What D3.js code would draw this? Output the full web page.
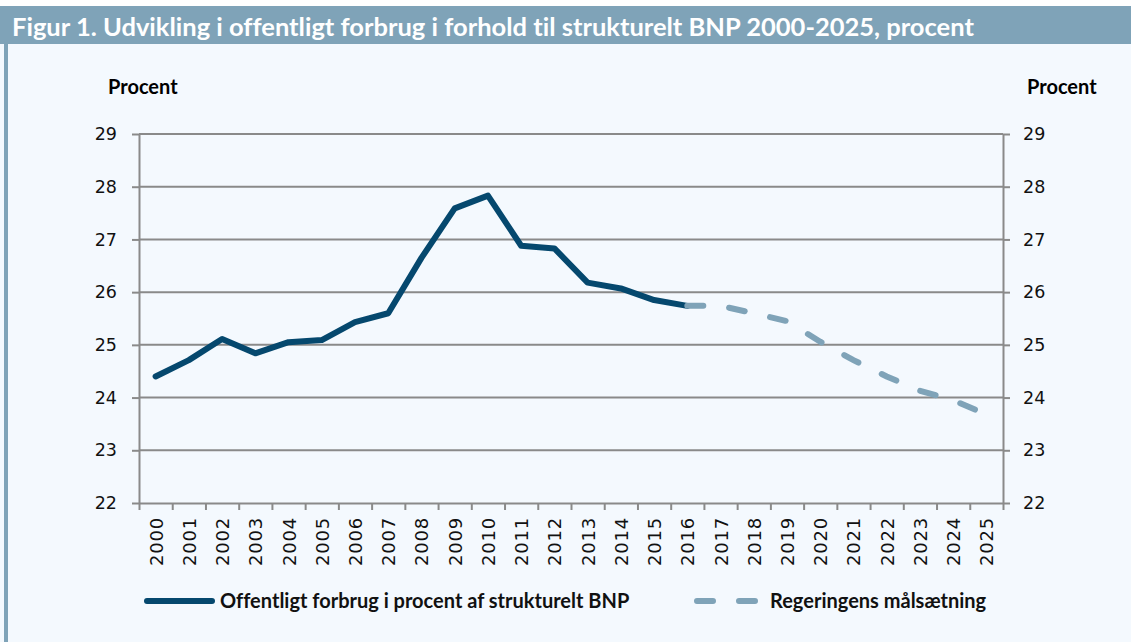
<!DOCTYPE html>
<html>
<head>
<meta charset="utf-8">
<script src="https://cdn.jsdelivr.net/npm/d3@7"></script>
<style>
  body { margin: 0; background: #fff; }
  svg { display: block; }
  text { font-variant-ligatures: none; }
</style>
</head>
<body>
<main></main>
<script>
// data
var years = d3.range(2000, 2026).map(String);
var actualYears = d3.range(2000, 2017).map(String);
var actualValues = [24.40, 24.71, 25.11, 24.84, 25.05, 25.09, 25.43, 25.60, 26.65, 27.59,
                    27.83, 26.88, 26.83, 26.18, 26.07, 25.85, 25.74];
var targetYears = d3.range(2016, 2026).map(String);
var targetValues = [25.74, 25.74, 25.60, 25.45, 25.06, 24.71, 24.40, 24.13, 23.95, 23.68];
var yTicks = [22, 23, 24, 25, 26, 27, 28, 29];
var seriesNames = ['Offentligt forbrug i procent af strukturelt BNP', 'Regeringens målsætning'];
var title = 'Figur 1. Udvikling i offentligt forbrug i forhold til strukturelt BNP 2000-2025, procent';

var W = 1131, H = 642;
var plotL = 139, plotR = 1003, plotT = 134, plotB = 503;
var darkBlue = '#05486e', lightBlue = '#7fa3b8', gridCol = '#8a8a8a';

var svg = d3.select('main').append('svg')
    .attr('width', W)
    .attr('height', H);

// panel + title bar
svg.append('rect').attr('x', 0).attr('y', 6).attr('width', W).attr('height', H - 6).attr('fill', '#f4f9fe');
svg.append('rect').attr('x', 0).attr('y', 6).attr('width', W).attr('height', 38).attr('fill', lightBlue);
svg.append('rect').attr('x', 4).attr('y', 44).attr('width', 4).attr('height', H - 44).attr('fill', lightBlue);
svg.append('text')
    .attr('x', 12).attr('y', 36)
    .attr('fill', '#fff')
    .style('font-family', 'Lato')
    .style('font-weight', 'bold')
    .style('font-size', '25.5px')
    .text(title);

// scales
var x = d3.scaleBand().domain(years).range([plotL, plotR]);
var xEdge = d3.scaleLinear().domain([0, years.length]).range([plotL, plotR]);
var y = d3.scaleLinear().domain([22, 29]).range([plotB, plotT]);

// gridlines
svg.append('g').selectAll('line')
    .data(yTicks.filter(d => d > 22))
    .enter().append('line')
    .attr('x1', plotL).attr('x2', plotR)
    .attr('y1', d => y(d)).attr('y2', d => y(d))
    .attr('stroke', gridCol).attr('stroke-width', 2);

function styleAxis(g) {
    g.select('.domain').attr('stroke', gridCol).attr('stroke-width', 2);
    g.selectAll('.tick line').attr('stroke', gridCol).attr('stroke-width', 2);
    g.selectAll('text')
        .attr('fill', '#111')
        .style('font-family', 'DejaVu Sans')
        .style('font-size', '17.5px');
}

svg.append('g')
    .attr('transform', 'translate(' + plotL + ',0)')
    .call(d3.axisLeft(y).tickValues(yTicks).tickFormat(d3.format('d')).tickSize(7).tickSizeOuter(0).tickPadding(15))
    .call(styleAxis);

svg.append('g')
    .attr('transform', 'translate(' + plotR + ',0)')
    .call(d3.axisRight(y).tickValues(yTicks).tickFormat(d3.format('d')).tickSize(7).tickSizeOuter(0).tickPadding(13))
    .call(styleAxis);

svg.append('g')
    .attr('transform', 'translate(0,' + plotB + ')')
    .call(d3.axisBottom(xEdge).tickValues(d3.range(years.length + 1)).tickSize(7).tickSizeOuter(0).tickFormat(''))
    .call(styleAxis);

svg.append('g').selectAll('text')
    .data(years)
    .enter().append('text')
    .attr('transform', d => 'translate(' + (x(d) + x.bandwidth() / 2 + 7) + ',' + (plotB + 14) + ') rotate(-90)')
    .attr('text-anchor', 'end')
    .attr('fill', '#111')
    .style('font-family', 'DejaVu Sans')
    .style('font-size', '18px')
    .style('letter-spacing', '0.8px')
    .text(d => d);

// axis titles
svg.append('text').attr('x', 108).attr('y', 94)
    .style('font-family', 'Lato').style('font-weight', 'bold').style('font-size', '20px')
    .text('Procent');
svg.append('text').attr('x', 1027).attr('y', 94)
    .style('font-family', 'Lato').style('font-weight', 'bold').style('font-size', '20px')
    .text('Procent');

// lines
var line = d3.line()
    .x(d => x(d[0]) + x.bandwidth() / 2)
    .y(d => y(d[1]));

svg.append('path')
    .datum(actualYears.map((d, i) => [d, actualValues[i]]))
    .attr('d', line)
    .attr('fill', 'none')
    .attr('stroke', darkBlue)
    .attr('stroke-width', 6)
    .attr('stroke-linejoin', 'round')
    .attr('stroke-linecap', 'round');

svg.append('path')
    .datum(targetYears.map((d, i) => [d, targetValues[i]]))
    .attr('d', line)
    .attr('fill', 'none')
    .attr('stroke', lightBlue)
    .attr('stroke-width', 6)
    .attr('stroke-dasharray', '16 26')
    .attr('stroke-linecap', 'round');

// legend
var legend = svg.append('g');
legend.append('line')
    .attr('x1', 147).attr('x2', 212).attr('y1', 601).attr('y2', 601)
    .attr('stroke', darkBlue).attr('stroke-width', 6).attr('stroke-linecap', 'round');
legend.append('line')
    .attr('x1', 697).attr('x2', 758).attr('y1', 601).attr('y2', 601)
    .attr('stroke', lightBlue).attr('stroke-width', 6).attr('stroke-linecap', 'round')
    .attr('stroke-dasharray', '16 26');
legend.selectAll('.ltext')
    .data(seriesNames)
    .enter().append('text')
    .attr('class', 'ltext')
    .attr('x', (d, i) => i === 0 ? 220 : 770)
    .attr('y', 608)
    .attr('fill', '#111')
    .style('font-family', 'Lato')
    .style('font-weight', 'bold')
    .style('font-size', '20px')
    .text(d => d);
</script>
</body>
</html>
